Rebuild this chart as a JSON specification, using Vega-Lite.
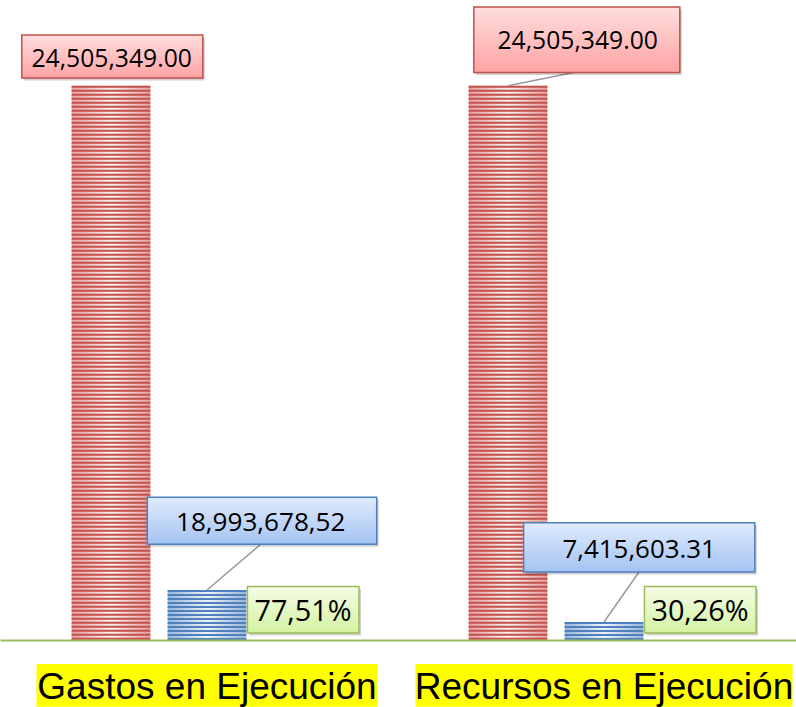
{
  "$schema": "https://vega.github.io/schema/vega-lite/v6.json",
  "width": 796,
  "height": 640,
  "padding": 0,
  "background": "white",
  "config": {"view": {"stroke": null}},
  "data": {
    "values": [
      {"categoria": "Gastos en Ejecución", "serie": "Presupuesto", "valor": 24505349, "etiqueta": "24,505,349.00"},
      {"categoria": "Gastos en Ejecución", "serie": "Ejecutado", "valor": 2211000, "etiqueta": "18,993,678,52"},
      {"categoria": "Gastos en Ejecución", "serie": "Porcentaje", "valor": 77.51, "etiqueta": "77,51%"},
      {"categoria": "Recursos en Ejecución", "serie": "Presupuesto", "valor": 24505349, "etiqueta": "24,505,349.00"},
      {"categoria": "Recursos en Ejecución", "serie": "Ejecutado", "valor": 796000, "etiqueta": "7,415,603.31"},
      {"categoria": "Recursos en Ejecución", "serie": "Porcentaje", "valor": 30.26, "etiqueta": "30,26%"}
    ]
  },
  "encoding": {
    "x": {
      "field": "categoria",
      "type": "nominal",
      "scale": {"paddingInner": 0.27456, "paddingOuter": 0.1398, "align": 0.5676},
      "axis": {
        "title": null,
        "ticks": false,
        "tickSize": 0,
        "labelPadding": 29,
        "labelAngle": 0,
        "labelFontSize": 37,
        "labelFont": "Liberation Sans",
        "labelColor": "#000000",
        "labelLimit": 600,
        "domainColor": "#9BBB59",
        "domainWidth": 2,
        "zindex": 1
      }
    },
    "y": {
      "field": "valor",
      "type": "quantitative",
      "scale": {"domain": [0, 28300000], "nice": false},
      "axis": null
    }
  },
  "layer": [
    {
      "transform": [{"filter": "datum.serie === 'Presupuesto'"}],
      "mark": {"type": "bar", "color": "#FFFF00"},
      "encoding": {
        "y": {"datum": -1061000, "type": "quantitative"},
        "y2": {"datum": -2950000},
        "size": {"condition": {"test": "datum.categoria === 'Gastos en Ejecución'", "value": 341}, "value": 377}
      }
    },
    {
      "encoding": {
        "xOffset": {
          "field": "serie",
          "type": "nominal",
          "scale": {"domain": ["Presupuesto", "Ejecutado", "Porcentaje"], "paddingInner": 0.18, "paddingOuter": 0.09}
        }
      },
      "layer": [
        {
          "transform": [{"filter": "datum.serie !== 'Porcentaje'"}],
          "mark": {"type": "bar"},
          "encoding": {
            "fill": {
              "condition": {
                "test": "datum.serie === 'Presupuesto'",
                "value": {"gradient": "linear", "x1": 0, "y1": 0, "x2": 1, "y2": 0, "stops": [{"offset": 0, "color": "#E2A19F"}, {"offset": 0.5, "color": "#FCF3F2"}, {"offset": 1, "color": "#E2A19F"}]}
              },
              "value": {"gradient": "linear", "x1": 0, "y1": 0, "x2": 1, "y2": 0, "stops": [{"offset": 0, "color": "#99B5DC"}, {"offset": 0.5, "color": "#EDF2F9"}, {"offset": 1, "color": "#99B5DC"}]}
            }
          }
        },
        {
          "transform": [{"filter": "datum.serie !== 'Porcentaje'"}],
          "mark": {"type": "rule", "strokeWidth": 78.7, "strokeDash": [2, 2]},
          "encoding": {
            "y2": {"datum": 0},
            "stroke": {"condition": {"test": "datum.serie === 'Presupuesto'", "value": "#C4504E"}, "value": "#4F81BD"}
          }
        },
        {
          "transform": [{"filter": "datum.serie === 'Porcentaje'"}],
          "layer": [
            {"mark": {"type": "point", "shape": "M-53.6,-51.1H58V-4.5H-53.6Z", "size": 4, "filled": true, "fill": "#000000", "opacity": 0.18}},
            {"mark": {"type": "point", "shape": "M-55.6,-53.6H56V-7H-55.6Z", "size": 4, "filled": true, "opacity": 1, "stroke": "#9BBB59", "strokeWidth": 1.5,
              "fill": {"gradient": "linear", "x1": 0, "y1": 0, "x2": 0, "y2": 1, "stops": [{"offset": 0, "color": "#F5FCE7"}, {"offset": 1, "color": "#D3F3A0"}]}}},
            {"mark": {"type": "text", "font": "Open Sans", "fontSize": 28.8, "align": "center", "baseline": "alphabetic", "dx": 0, "dy": -18.7, "color": "#000000"},
              "encoding": {"text": {"field": "etiqueta"}}}
          ]
        },
        {
          "transform": [{"filter": "datum.categoria === 'Gastos en Ejecución' && datum.serie === 'Presupuesto'"}],
          "layer": [
            {"mark": {"type": "point", "shape": "M-87.2,-48.2H93.8V-5.4H-87.2Z", "size": 4, "filled": true, "fill": "#000000", "opacity": 0.18}},
            {"mark": {"type": "point", "shape": "M-89.2,-50.7H91.8V-7.9H-89.2Z", "size": 4, "filled": true, "opacity": 1, "stroke": "#C0504D", "strokeWidth": 1.5,
              "fill": {"gradient": "linear", "x1": 0, "y1": 0, "x2": 0, "y2": 1, "stops": [{"offset": 0, "color": "#FFDEDE"}, {"offset": 1, "color": "#FFA3A3"}]}}},
            {"mark": {"type": "text", "font": "Open Sans", "fontSize": 24.7, "align": "center", "baseline": "alphabetic", "dx": 0.7, "dy": -18.7, "color": "#000000"},
              "encoding": {"text": {"field": "etiqueta"}}}
          ]
        },
        {
          "transform": [{"filter": "datum.categoria === 'Recursos en Ejecución' && datum.serie === 'Presupuesto'"}],
          "layer": [
            {"mark": {"type": "point", "shape": "M0,0L67,-13.5", "size": 4, "filled": false, "stroke": "#9A9A9A", "strokeWidth": 1.5, "opacity": 1}},
            {"mark": {"type": "point", "shape": "M-32.2,-76.2H173.8V-10.8H-32.2Z", "size": 4, "filled": true, "fill": "#000000", "opacity": 0.18}},
            {"mark": {"type": "point", "shape": "M-34.2,-78.7H171.8V-13.3H-34.2Z", "size": 4, "filled": true, "opacity": 1, "stroke": "#C0504D", "strokeWidth": 1.5,
              "fill": {"gradient": "linear", "x1": 0, "y1": 0, "x2": 0, "y2": 1, "stops": [{"offset": 0, "color": "#FFDEDE"}, {"offset": 1, "color": "#FFA3A3"}]}}},
            {"mark": {"type": "text", "font": "Open Sans", "fontSize": 24.7, "align": "center", "baseline": "alphabetic", "dx": 69.7, "dy": -36.7, "color": "#000000"},
              "encoding": {"text": {"field": "etiqueta"}}}
          ]
        },
        {
          "transform": [{"filter": "datum.categoria === 'Gastos en Ejecución' && datum.serie === 'Ejecutado'"}],
          "layer": [
            {"mark": {"type": "point", "shape": "M0,0L54,-46", "size": 4, "filled": false, "stroke": "#9A9A9A", "strokeWidth": 1.5, "opacity": 1}},
            {"mark": {"type": "point", "shape": "M-57.7,-90.2H171.7V-43.2H-57.7Z", "size": 4, "filled": true, "fill": "#000000", "opacity": 0.18}},
            {"mark": {"type": "point", "shape": "M-59.7,-92.7H169.7V-45.7H-59.7Z", "size": 4, "filled": true, "opacity": 1, "stroke": "#4F81BD", "strokeWidth": 1.5,
              "fill": {"gradient": "linear", "x1": 0, "y1": 0, "x2": 0, "y2": 1, "stops": [{"offset": 0, "color": "#E0EBFC"}, {"offset": 1, "color": "#A4C3F3"}]}}},
            {"mark": {"type": "text", "font": "Open Sans", "fontSize": 26.1, "align": "center", "baseline": "alphabetic", "dx": 53.7, "dy": -58.7, "color": "#000000"},
              "encoding": {"text": {"field": "etiqueta"}}}
          ]
        },
        {
          "transform": [{"filter": "datum.categoria === 'Recursos en Ejecución' && datum.serie === 'Ejecutado'"}],
          "layer": [
            {"mark": {"type": "point", "shape": "M0,0L35,-50", "size": 4, "filled": false, "stroke": "#9A9A9A", "strokeWidth": 1.5, "opacity": 1}},
            {"mark": {"type": "point", "shape": "M-78.4,-96.8H152.8V-47.6H-78.4Z", "size": 4, "filled": true, "fill": "#000000", "opacity": 0.18}},
            {"mark": {"type": "point", "shape": "M-80.4,-99.3H150.8V-50.1H-80.4Z", "size": 4, "filled": true, "opacity": 1, "stroke": "#4F81BD", "strokeWidth": 1.5,
              "fill": {"gradient": "linear", "x1": 0, "y1": 0, "x2": 0, "y2": 1, "stops": [{"offset": 0, "color": "#E0EBFC"}, {"offset": 1, "color": "#A4C3F3"}]}}},
            {"mark": {"type": "text", "font": "Open Sans", "fontSize": 25.9, "align": "center", "baseline": "alphabetic", "dx": 35.2, "dy": -63.7, "color": "#000000"},
              "encoding": {"text": {"field": "etiqueta"}}}
          ]
        }
      ]
    }
  ]
}
